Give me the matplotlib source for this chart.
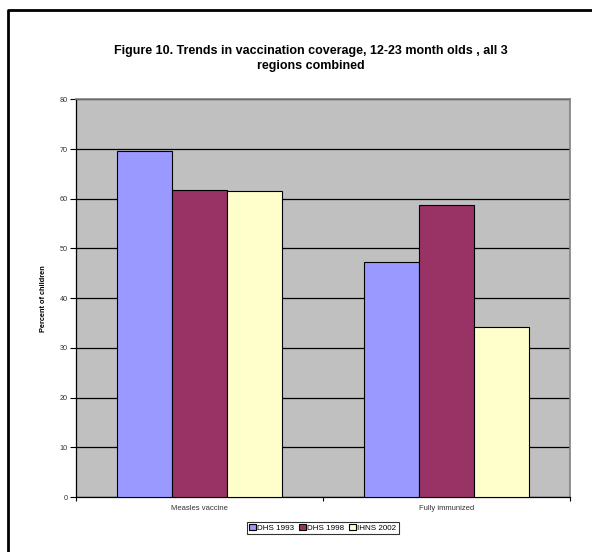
import matplotlib
matplotlib.use("Agg")
import matplotlib.pyplot as plt
import numpy as np
from matplotlib.lines import Line2D

plt.rcParams['font.family'] = ['Liberation Sans', 'DejaVu Sans']

categories = ["Measles vaccine", "Fully immunized"]
series_names = ["DHS 1993", "DHS 1998", "IHNS 2002"]
dhs_1993 = [69.5, 47.3]
dhs_1998 = [61.8, 58.7]
ihns_2002 = [61.5, 34.1]
series_values = [dhs_1993, dhs_1998, ihns_2002]
colors = ["#9999FF", "#993366", "#FFFFCC"]
yticks = [0, 10, 20, 30, 40, 50, 60, 70, 80]

W, H = 592, 552
fig = plt.figure(figsize=(W / 100, H / 100), dpi=100)
fig.patch.set_facecolor("white")

# outer chart frame (left and top edges visible)
fig.add_artist(Line2D([8 / W, 8 / W, 1.0], [0.0, 1 - 10 / H, 1 - 10 / H],
                      transform=fig.transFigure, color="black", lw=2.0))

ax = fig.add_axes([76 / W, 1 - 497 / H, (570 - 76) / W, (497 - 99.3) / H])
ax.set_facecolor("#C0C0C0")

x = np.arange(len(categories))
width = 1 / 4.5
for i, (name, vals, c) in enumerate(zip(series_names, series_values, colors)):
    ax.bar(x + (i - 1) * width, vals, width, color=c, edgecolor="black",
           linewidth=0.8, label=name, zorder=3)

ax.set_xlim(-0.5, len(categories) - 0.5)
ax.set_ylim(0, 80)
ax.set_yticks(yticks)
ax.set_yticklabels([str(v) for v in yticks], fontsize=5.2, color="#333333")
ax.yaxis.grid(True, color="black", linewidth=0.9, zorder=1)
ax.set_axisbelow(True)
ax.tick_params(axis="y", length=4, width=0.8, direction="out", pad=2)

ax.set_xticks(x)
ax.set_xticklabels(categories, fontsize=5.5, color="#333333")
ax.tick_params(axis="x", length=0, pad=6)
ax.set_xticks([-0.5, 0.5, 1.5], minor=True)
ax.tick_params(axis="x", which="minor", length=3, width=0.8)

for side in ["top", "right"]:
    ax.spines[side].set_color("#808080")
    ax.spines[side].set_linewidth(1.2)
for side in ["left", "bottom"]:
    ax.spines[side].set_color("black")
    ax.spines[side].set_linewidth(0.9)

ax.set_ylabel("Percent of children", fontsize=5.3, fontweight="bold", labelpad=9)

fig.text(311 / W, 1 - 58.5 / H,
         "Figure 10. Trends in vaccination coverage, 12-23 month olds , all 3\nregions combined",
         ha="center", va="center", fontsize=9, fontweight="bold", linespacing=1.3)

leg = fig.legend(loc="center", bbox_to_anchor=(323 / W, 1 - 528 / H), ncol=3,
                 fontsize=5.8, frameon=True, fancybox=False, edgecolor="black",
                 handlelength=0.8, handleheight=0.8, handletextpad=0.2,
                 columnspacing=0.6, borderpad=0.3, borderaxespad=0)
leg.get_frame().set_linewidth(0.8)

fig.savefig("out.png", dpi=100)
